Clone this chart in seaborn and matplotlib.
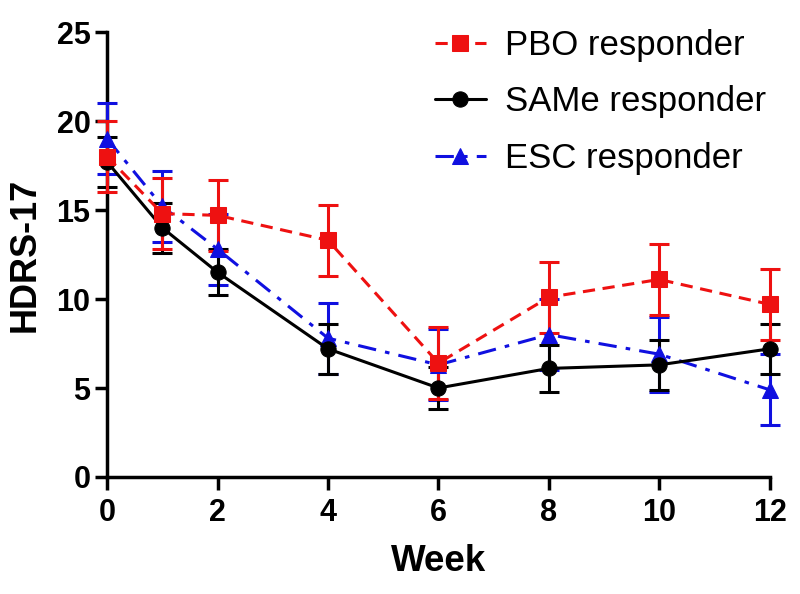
import numpy as np
import pandas as pd
from matplotlib import pyplot as plt
import seaborn as sns

weeks = [0, 1, 2, 4, 6, 8, 10, 12]

pbo_mean = [18.0, 14.8, 14.7, 13.3, 6.4, 10.1, 11.1, 9.7]
pbo_sd = [2.0, 2.0, 2.0, 2.0, 2.0, 2.0, 2.0, 2.0]

same_mean = [17.7, 14.0, 11.5, 7.2, 5.0, 6.1, 6.3, 7.2]
same_sd = [1.4, 1.4, 1.3, 1.4, 1.2, 1.3, 1.4, 1.4]

esc_mean = [19.0, 15.2, 12.8, 7.8, 6.3, 8.0, 6.9, 4.9]
esc_sd = [2.0, 2.0, 2.0, 2.0, 2.0, 2.0, 2.1, 2.0]

series = [
    ("ESC responder", esc_mean, esc_sd, "#1010e0", "^", (0, (6, 3, 1.5, 3)), 11),
    ("SAMe responder", same_mean, same_sd, "black", "o", "-", 11),
    ("PBO responder", pbo_mean, pbo_sd, "#ee1111", "s", (0, (4, 2.5)), 12),
]

sns.set_theme(style="ticks")
plt.rcParams['font.family'] = ['Liberation Sans', 'DejaVu Sans']
plt.rcParams['text.color'] = 'black'
plt.rcParams['axes.labelcolor'] = 'black'

fig = plt.figure(figsize=(8, 5.94), dpi=100)
ax = fig.add_axes([0.134, 0.197, 0.828, 0.749])

for name, mean, sd, color, marker, ls, ms in series:
    df = pd.DataFrame({"Week": weeks, "HDRS": mean})
    ax.errorbar(weeks, mean, yerr=sd, fmt="none", ecolor=color, elinewidth=2.2,
                capsize=7, capthick=2.2, clip_on=False, zorder=3)
    sns.lineplot(x="Week", y="HDRS", data=df, ax=ax, color=color, marker=marker,
                 markersize=ms, markeredgecolor=color, linewidth=2.2,
                 linestyle=ls, clip_on=False, zorder=4, label=name)

h, l = ax.get_legend_handles_labels()
order = [l.index("PBO responder"), l.index("SAMe responder"), l.index("ESC responder")]
fig.legend([h[i] for i in order], [l[i] for i in order], loc="upper left",
           bbox_to_anchor=(0.505, 1.004), frameon=False, fontsize=25,
           handlelength=1.45, labelspacing=0.68, handletextpad=0.55,
           labelcolor="black")
ax.get_legend().remove()

ax.set_xlim(0, 12)
ax.set_ylim(0, 25)
ax.set_xticks([0, 2, 4, 6, 8, 10, 12])
ax.set_yticks([0, 5, 10, 15, 20, 25])
ax.set_xlabel("Week", fontsize=26.5, fontweight="bold", labelpad=12)
ax.set_ylabel("HDRS-17", fontsize=26, fontweight="bold", labelpad=10)
for lab in ax.get_xticklabels() + ax.get_yticklabels():
    lab.set_fontweight("bold")
ax.tick_params(labelsize=22, width=2.5, length=9, color="black", labelcolor="black")
ax.tick_params(axis="x", pad=6)
ax.tick_params(axis="y", pad=3)
for s in ["left", "bottom"]:
    ax.spines[s].set_linewidth(2.5)
    ax.spines[s].set_color("black")
sns.despine(ax=ax)

plt.savefig("out.png", dpi=100)
